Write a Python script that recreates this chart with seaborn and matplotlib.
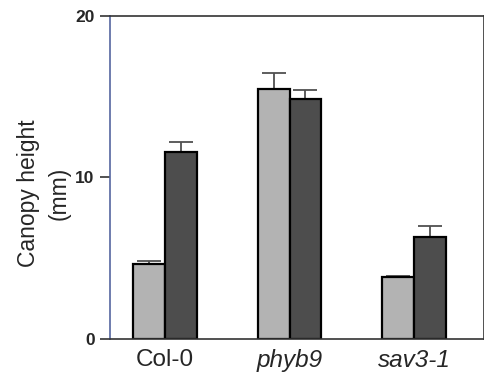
import numpy as np
import pandas as pd
import seaborn as sns
import matplotlib.pyplot as plt

# Values
genotypes = ["Col-0", "phyb9", "sav3-1"]
conditions = ["High R:FR", "Low R:FR"]
high_mean = [4.64, 15.48, 3.86]
low_mean = [11.6, 14.86, 6.33]
high_err = [0.2, 1.0, 0.06]
low_err = [0.58, 0.55, 0.67]

bar_colors = ["#b3b3b3", "#4d4d4d"]

df = pd.DataFrame({
    "genotype": genotypes * 2,
    "condition": [conditions[0]] * 3 + [conditions[1]] * 3,
    "height": high_mean + low_mean,
    "err": high_err + low_err,
})

sns.set_style("white")
plt.rcParams["font.family"] = ["Liberation Sans", "DejaVu Sans"]

fig = plt.figure(figsize=(4.85, 3.85), dpi=100)
ax = fig.add_axes([110 / 485, 1 - 339 / 385, 374 / 485, 323 / 385])

sns.barplot(
    data=df, x="genotype", y="height", hue="condition",
    order=genotypes, hue_order=conditions, palette=bar_colors,
    width=0.51, gap=0, errorbar=None, edgecolor="black", linewidth=1.6,
    legend=False, ax=ax, zorder=2,
)

# upper-only error bars positioned on the drawn bars
for patch, (_, row) in zip(ax.patches, df.iterrows()):
    xc = patch.get_x() + patch.get_width() / 2
    ax.errorbar(xc, patch.get_height(), yerr=[[0], [row["err"]]], fmt="none",
                ecolor="#505050", elinewidth=1.3, capsize=8.5, capthick=1.3, zorder=1)

ax.set_xlim(-0.44, 2.56)
ax.set_ylim(0, 20)
ax.set_yticks([0, 10, 20])
ax.set_yticklabels(["0", "10", "20"], fontweight="bold", fontsize=12.5)
ax.set_xticks(range(3))
ax.set_xticklabels(genotypes, fontsize=17.5)
for lab in ax.get_xticklabels()[1:]:
    lab.set_fontstyle("italic")
ax.tick_params(axis="y", direction="out", length=7, width=1.2, color="#333333", left=True, pad=4)
ax.tick_params(axis="x", length=0, pad=7)

ax.set_xlabel("")
ax.set_ylabel("Canopy height\n(mm)", fontsize=16.5, linespacing=1.45)
ax.yaxis.set_label_coords(-0.105, 0.45)

ax.spines["left"].set_color("#5566a0")
ax.spines["left"].set_linewidth(1.2)
for side in ["top", "right", "bottom"]:
    ax.spines[side].set_color("#333333")
    ax.spines[side].set_linewidth(1.2)

fig.savefig("out.png", dpi=100)
